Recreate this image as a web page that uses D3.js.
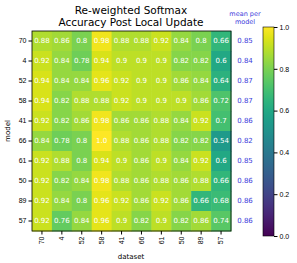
<!DOCTYPE html>
<html><head><meta charset="utf-8">
<script src="https://cdn.jsdelivr.net/npm/d3@7"></script>
<style>body{margin:0;background:#fff}svg{display:block;font-family:"DejaVu Sans",sans-serif}</style>
</head><body><div id="c"></div>
<script>
const models = ["70","4","52","58","41","66","61","50","89","57"];
const datasets = ["70","4","52","58","41","66","61","50","89","57"];
const values = [
 [0.88,0.86,0.8,0.98,0.88,0.88,0.92,0.84,0.8,0.66],
 [0.92,0.84,0.78,0.94,0.9,0.9,0.9,0.82,0.82,0.6],
 [0.94,0.84,0.84,0.96,0.92,0.9,0.9,0.86,0.84,0.64],
 [0.94,0.82,0.88,0.88,0.92,0.9,0.9,0.9,0.86,0.72],
 [0.92,0.82,0.86,0.98,0.86,0.86,0.88,0.84,0.92,0.7],
 [0.84,0.78,0.8,1.0,0.88,0.86,0.88,0.82,0.82,0.54],
 [0.92,0.88,0.8,0.94,0.9,0.86,0.9,0.84,0.92,0.6],
 [0.92,0.82,0.84,0.98,0.88,0.86,0.88,0.86,0.88,0.66],
 [0.92,0.84,0.8,0.96,0.92,0.86,0.92,0.86,0.66,0.68],
 [0.92,0.76,0.84,0.96,0.9,0.82,0.9,0.82,0.86,0.74]
];
const means = ["0.85","0.84","0.87","0.87","0.86","0.82","0.85","0.86","0.86","0.86"];
const cbTicks = [0,0.2,0.4,0.6,0.8,1.0];

const W=297,H=263;
const svg=d3.select("#c").append("svg").attr("width",W).attr("height",H);
const x=d3.scaleBand().domain(datasets.map((d,i)=>i)).range([32,231]);
const y=d3.scaleBand().domain(models.map((d,i)=>i)).range([31,231]);
const color=d3.scaleSequential(d3.interpolateViridis).domain([0,1]);
const fmt=v=>v===1?"1.0":String(v);

const cells=[];
values.forEach((row,i)=>row.forEach((v,j)=>cells.push({i,j,v})));
svg.append("g").selectAll("rect").data(cells).join("rect")
 .attr("x",d=>x(d.j)).attr("y",d=>y(d.i)).attr("width",x.bandwidth()+0.5).attr("height",y.bandwidth()+0.5)
 .attr("fill",d=>color(d.v));
svg.append("g").selectAll("text").data(cells).join("text")
 .attr("x",d=>x(d.j)+x.bandwidth()/2).attr("y",d=>y(d.i)+y.bandwidth()/2)
 .attr("text-anchor","middle").attr("dominant-baseline","central")
 .attr("fill","#fff").attr("font-size","7px").text(d=>fmt(d.v));
svg.append("rect").attr("x",32).attr("y",31).attr("width",199).attr("height",200)
 .attr("fill","none").attr("stroke","#000").attr("stroke-width",0.8);

// axes
const ya=d3.axisLeft(d3.scaleBand().domain(models).range([31,231])).tickSize(3.5).tickPadding(2);
const gy=svg.append("g").attr("transform","translate(32,0)").call(ya);
gy.select(".domain").remove();
gy.selectAll("text").attr("font-size","7px").attr("fill","#000");
const xa=d3.axisBottom(d3.scaleBand().domain(datasets).range([32,231])).tickSize(3.5).tickPadding(2);
const gx=svg.append("g").attr("transform","translate(0,231)").call(xa);
gx.select(".domain").remove();
gx.selectAll("text").attr("font-size","7px").attr("fill","#000")
 .attr("transform","rotate(-90)").attr("text-anchor","end").attr("x",0).attr("y",0)
 .attr("dy","0.32em").attr("dx","-5.5");

svg.append("text").attr("x",131).attr("y",259).attr("text-anchor","middle").attr("font-size","7px").text("dataset");
svg.append("text").attr("transform","translate(10,131) rotate(-90)").attr("text-anchor","middle").attr("font-size","7px").text("model");

// title
svg.append("text").attr("x",131).attr("y",14).attr("text-anchor","middle").attr("font-size","10.5px").text("Re-weighted Softmax");
svg.append("text").attr("x",131).attr("y",26).attr("text-anchor","middle").attr("font-size","10.5px").text("Accuracy Post Local Update");

// means
const blue="#3b3bdb";
svg.append("text").attr("x",245).attr("y",16).attr("text-anchor","middle").attr("font-size","6.5px").attr("fill",blue).text("mean per");
svg.append("text").attr("x",245).attr("y",24).attr("text-anchor","middle").attr("font-size","6.5px").attr("fill",blue).text("model");
svg.append("g").selectAll("text").data(means).join("text")
 .attr("x",245).attr("y",(d,i)=>y(i)+y.bandwidth()/2).attr("text-anchor","middle").attr("dominant-baseline","central")
 .attr("font-size","7px").attr("fill",blue).text(d=>d);

// colorbar
const cbX=263,cbW=11,cbTop=27,cbBot=236;
const defs=svg.append("defs");
const lg=defs.append("linearGradient").attr("id","cb").attr("x1",0).attr("y1",1).attr("x2",0).attr("y2",0);
d3.range(0,1.0001,0.05).forEach(t=>lg.append("stop").attr("offset",t).attr("stop-color",color(t)));
svg.append("rect").attr("x",cbX).attr("y",cbTop).attr("width",cbW).attr("height",cbBot-cbTop).attr("fill","url(#cb)").attr("stroke","#000").attr("stroke-width",0.6);
const cs=d3.scaleLinear().domain([0,1]).range([cbBot,cbTop]);
const gc=svg.append("g").attr("transform",`translate(${cbX+cbW},0)`).call(d3.axisRight(cs).tickValues(cbTicks).tickFormat(d3.format(".1f")).tickSize(3.5).tickPadding(2));
gc.select(".domain").remove();
gc.selectAll("text").attr("font-size","7px").attr("fill","#000");
</script></body></html>
